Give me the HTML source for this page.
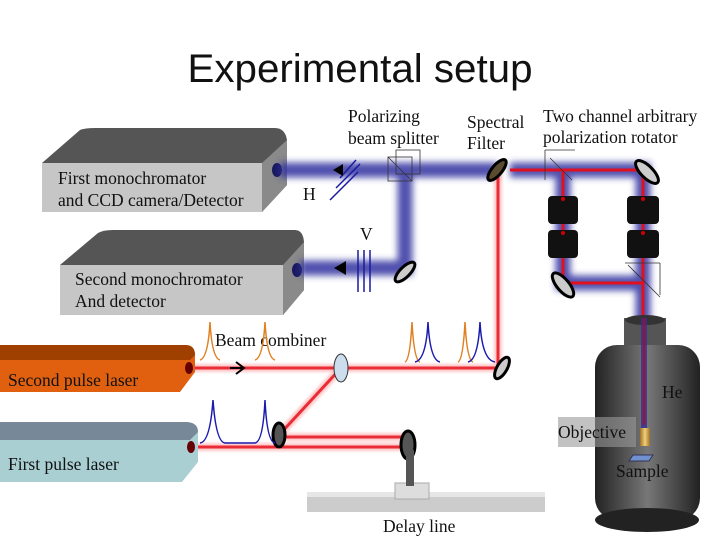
<!DOCTYPE html>
<html><head><style>
body{margin:0;background:#fff;}
svg{display:block;}
.t{font-family:"Liberation Serif",serif;font-size:17.5px;fill:#111;}
</style></head><body>
<svg width="720" height="540" viewBox="0 0 720 540" xmlns="http://www.w3.org/2000/svg">
<defs>
<filter id="bl" x="-20%" y="-50%" width="140%" height="200%"><feGaussianBlur stdDeviation="3.5"/></filter>
<filter id="bl2"><feGaussianBlur stdDeviation="1.2"/></filter>
<linearGradient id="cyl" x1="0" x2="1"><stop offset="0" stop-color="#222"/><stop offset="0.5" stop-color="#777"/><stop offset="1" stop-color="#222"/></linearGradient>
<linearGradient id="gold" x1="0" x2="1"><stop offset="0" stop-color="#a07020"/><stop offset="0.5" stop-color="#f0d080"/><stop offset="1" stop-color="#a07020"/></linearGradient>
</defs>
<text x="360" y="82" text-anchor="middle" font-family="Liberation Sans,sans-serif" font-size="40" fill="#111" textLength="345" lengthAdjust="spacingAndGlyphs">Experimental setup</text>

<!-- Box1 -->
<path d="M42 163 L80 130 Q85 128 95 128 L275 128 Q285 128 287 140 L287 185 L262 212 L42 212 Z" fill="#555"/>
<rect x="42" y="163" width="220" height="49" fill="#c6c6c6"/>
<path d="M262 163 L287 140 L287 185 L262 212Z" fill="#8a8a8a"/>
<ellipse cx="277" cy="170" rx="5" ry="7" fill="#1a1a60"/>
<text class="t" x="58" y="184">First monochromator</text>
<text class="t" x="58" y="206">and CCD camera/Detector</text>
<!-- Box2 -->
<path d="M60 265 L98 233 Q103 230 113 230 L295 230 Q303 230 304 242 L304 290 L283 315 L60 315 Z" fill="#555"/>
<rect x="60" y="265" width="223" height="50" fill="#c6c6c6"/>
<path d="M283 265 L304 242 L304 290 L283 315Z" fill="#8a8a8a"/>
<ellipse cx="297" cy="270" rx="5" ry="7" fill="#1a1a60"/>
<text class="t" x="75" y="285">Second monochromator</text>
<text class="t" x="75" y="307">And  detector</text>

<!-- blue beams -->
<g stroke="#3030a0" stroke-width="15" fill="none" filter="url(#bl)" opacity="0.85">
<path d="M280 170 L498 170"/>
<path d="M300 268 L405 268 L405 170"/>
<path d="M510 170 L643 170 L643 430"/>
<path d="M563 170 L563 283 L643 283"/>
</g>
<!-- red beams -->
<g stroke="#e01020" stroke-width="3" fill="none">
<path d="M498 170 L498 368 L190 368"/>
<path d="M510 170 L643 170 L643 425"/>
<path d="M563 170 L563 283 L643 283"/>
<path d="M341 368 L279 435"/>
<path d="M190 447 L405 447"/>
<path d="M285 437 L405 437"/>
</g>
<g stroke="#ff6060" stroke-width="8" fill="none" opacity="0.35" filter="url(#bl2)">
<path d="M498 170 L498 368 L190 368"/><path d="M341 368 L279 435"/><path d="M190 447 L405 447"/><path d="M285 437 L405 437"/>
</g>

<!-- cubes -->
<g fill="none" stroke="#333" stroke-width="0.8">
<rect x="388" y="157" width="24" height="24"/><rect x="396" y="150" width="24" height="24"/>
<line x1="388" y1="157" x2="412" y2="181"/>
<line x1="545" y1="150" x2="575" y2="150"/><line x1="545" y1="150" x2="545" y2="180"/><line x1="550" y1="158" x2="572" y2="180"/>
<line x1="625" y1="263" x2="660" y2="263"/><line x1="660" y1="263" x2="660" y2="295"/><line x1="628" y1="265" x2="660" y2="297"/>
</g>
<!-- polarization arrows -->
<g stroke="#1a1aa0" stroke-width="1.5">
<line x1="330" y1="200" x2="358" y2="172"/><line x1="336" y1="188" x2="360" y2="164"/><line x1="340" y1="178" x2="356" y2="160"/>
<line x1="358" y1="250" x2="358" y2="292"/><line x1="364" y1="250" x2="364" y2="292"/><line x1="370" y1="250" x2="370" y2="292"/>
</g>
<path d="M333 170 l10 -6 v12z M334 268 l12 -7 v14z" fill="#000"/>
<text class="t" x="303" y="200">H</text>
<text class="t" x="360" y="240">V</text>
<text class="t" x="348" y="122">Polarizing</text>
<text class="t" x="348" y="144">beam splitter</text>
<text class="t" x="467" y="128">Spectral</text>
<text class="t" x="467" y="149">Filter</text>
<text class="t" x="543" y="122">Two channel arbitrary</text>
<text class="t" x="543" y="143">polarization rotator</text>

<!-- mirrors -->
<g stroke="#000" stroke-width="3">
<ellipse cx="497" cy="170" rx="5" ry="13" transform="rotate(40 497 170)" fill="#5a4a30"/>
<ellipse cx="647" cy="172" rx="6" ry="15" transform="rotate(-45 647 172)" fill="#ccc"/>
<ellipse cx="405" cy="272" rx="5" ry="13" transform="rotate(45 405 272)" fill="#ccc"/>
<ellipse cx="563" cy="285" rx="6" ry="15" transform="rotate(-40 563 285)" fill="#ccc"/>
<ellipse cx="502" cy="368" rx="5" ry="12" transform="rotate(30 502 368)" fill="#ccc"/>
<ellipse cx="279" cy="435" rx="6" ry="12" fill="#555"/>
<ellipse cx="408" cy="445" rx="7" ry="14" fill="#555"/>
</g>
<ellipse cx="341" cy="368" rx="7" ry="14" fill="#cde" stroke="#333"/>
<!-- rotators -->
<g fill="#111">
<rect x="548" y="196" width="30" height="28" rx="4"/><rect x="548" y="230" width="30" height="28" rx="4"/>
<rect x="627" y="196" width="32" height="28" rx="4"/><rect x="627" y="230" width="32" height="28" rx="4"/>
</g>
<g fill="#c00"><circle cx="563" cy="199" r="2"/><circle cx="563" cy="233" r="2"/><circle cx="643" cy="199" r="2"/><circle cx="643" cy="233" r="2"/></g>

<!-- cryostat -->
<rect x="595" y="345" width="105" height="175" rx="22" fill="url(#cyl)"/>
<ellipse cx="647" cy="520" rx="52" ry="12" fill="#222"/>
<rect x="624" y="318" width="42" height="27" fill="#555"/>
<ellipse cx="645" cy="320" rx="20" ry="5" fill="#333"/>
<rect x="641" y="318" width="6" height="110" fill="#3030a0" opacity="0.8"/>
<line x1="644" y1="318" x2="644" y2="425" stroke="#c00" stroke-width="1.5"/>
<rect x="558" y="417" width="78" height="30" fill="#999" opacity="0.6"/>
<rect x="640" y="428" width="10" height="18" fill="url(#gold)"/>
<path d="M633 455 l20 0 l-4 6 l-20 0z" fill="#7090d0" stroke="#335"/>
<text class="t" x="662" y="398" fill="#000">He</text>
<text class="t" x="558" y="438">Objective</text>
<text class="t" x="616" y="477">Sample</text>

<!-- lasers -->
<path d="M0 345 L185 345 Q195 345 195 355 L195 372 L180 392 L0 392Z" fill="#e06010"/>
<path d="M0 345 L185 345 Q195 345 195 355 L190 360 L0 360Z" fill="#a04000"/>
<ellipse cx="189" cy="368" rx="4" ry="6" fill="#600"/>
<text class="t" x="8" y="386">Second pulse laser</text>
<path d="M0 422 L185 422 Q198 422 198 432 L198 462 L182 482 L0 482Z" fill="#a9cfd3"/>
<path d="M0 422 L185 422 Q198 422 198 432 L190 440 L0 440Z" fill="#789"/>
<ellipse cx="191" cy="447" rx="4" ry="6" fill="#600"/>
<text class="t" x="8" y="470">First pulse laser</text>
<path d="M230 368 l14 0 M236 362 l8 6 l-8 6" stroke="#000" stroke-width="2" fill="none"/>
<text class="t" x="215" y="346">Beam combiner</text>

<!-- peaks -->
<g fill="none" stroke-width="1.5">
<path d="M200 360 Q208 358 210 322 Q212 358 220 360 M255 360 Q263 358 265 322 Q267 358 275 360" stroke="#e08020"/>
<path d="M405 362 Q410 360 412 322 Q414 360 420 362 M458 362 Q463 360 465 322 Q467 360 473 362" stroke="#e08020"/>
<path d="M415 362 Q426 360 428 322 Q430 360 440 362 M468 362 Q478 360 480 322 Q482 360 495 362" stroke="#1a1ab0"/>
<path d="M200 443 Q210 442 213 400 Q216 442 225 443 L255 443 Q263 442 265 400 Q267 442 275 443" stroke="#1a1ab0"/>
</g>

<!-- delay line -->
<rect x="307" y="492" width="238" height="20" fill="#ccc"/>
<rect x="307" y="492" width="238" height="5" fill="#e6e6e6"/>
<rect x="395" y="483" width="34" height="16" fill="#ddd" stroke="#aaa"/>
<rect x="406" y="450" width="8" height="36" fill="#555"/>
<text class="t" x="383" y="532">Delay line</text>
</svg>
</body></html>
